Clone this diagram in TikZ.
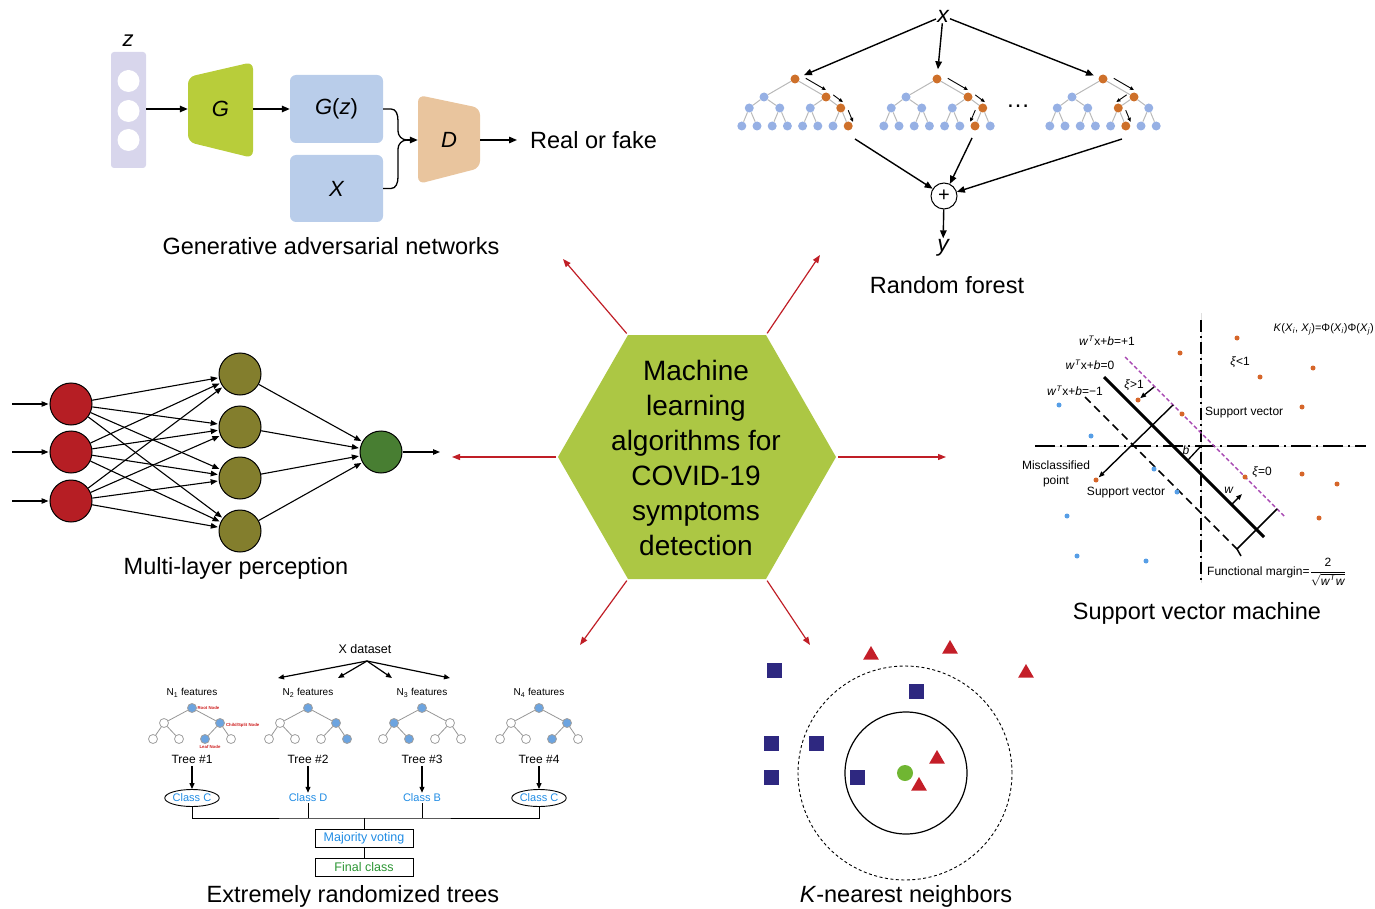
\documentclass[tikz,border=0pt]{standalone}
\usepackage{fontspec}
\setmainfont{Liberation Sans}
\usepackage{xcolor}
\usetikzlibrary{arrows.meta,calc,shapes.geometric}

\definecolor{hexgreen}{RGB}{172,199,68}
\definecolor{arrowred}{RGB}{192,30,38}
\definecolor{ganlav}{RGB}{216,214,236}
\definecolor{gangreen}{RGB}{184,205,58}
\definecolor{ganblue}{RGB}{185,205,234}
\definecolor{gantan}{RGB}{233,197,158}
\definecolor{rfblue}{RGB}{150,176,228}
\definecolor{rforange}{RGB}{206,112,42}
\definecolor{mlpred}{RGB}{182,30,36}
\definecolor{mlpolive}{RGB}{131,126,45}
\definecolor{mlpgreen}{RGB}{72,126,50}
\definecolor{svmorange}{RGB}{214,102,42}
\definecolor{svmblue}{RGB}{86,158,230}
\definecolor{svmpurple}{RGB}{168,72,178}
\definecolor{ertblue}{RGB}{108,164,224}
\definecolor{ertline}{RGB}{150,150,150}
\definecolor{erttext}{RGB}{32,140,228}
\definecolor{ertgreen}{RGB}{44,150,52}
\definecolor{ertred}{RGB}{205,30,30}
\definecolor{knnblue}{RGB}{46,40,128}
\definecolor{knnred}{RGB}{196,30,40}
\definecolor{knngreen}{RGB}{112,182,50}

\newcommand{\fsz}[2]{\fontsize{#1}{#2}\selectfont}

\begin{document}
\begin{tikzpicture}[x=1pt,y=-1pt,
    algname/.style={font=\fsz{23.5}{28}},
    redarr/.style={draw=arrowred,line width=1.2pt,shorten <=2pt,-{Triangle[length=8pt,width=6pt]}},
    blkarr/.style={line width=1.4pt,-{Triangle[length=8pt,width=6.5pt]}},
    ganletter/.style={font=\fsz{22}{26}\itshape,inner sep=0},
    rfnode/.style={circle,minimum size=9pt,inner sep=0},
    rfedge/.style={draw=gray!55,line width=1pt},
    rfsmall/.style={line width=0.9pt,-{Triangle[length=4pt,width=3.5pt]}},
    mlpnode/.style={circle,draw,line width=1pt,minimum size=42pt,inner sep=0},
    mlparr/.style={line width=1.1pt,shorten >=1pt,-{Triangle[length=7pt,width=5.5pt]}},
    svmtxt/.style={font=\fsz{12}{15},inner sep=0},
    svmdot/.style={circle,minimum size=5pt,inner sep=0},
    svmarr/.style={line width=1.4pt,-{Triangle[length=6pt,width=4.5pt]}},
    ertnode/.style={circle,draw=gray!75,line width=0.8pt,minimum size=9pt,inner sep=0},
    ertedge/.style={draw=ertline,line width=0.8pt},
    ertarr/.style={line width=1.2pt,shorten <=2pt,-{Triangle[length=6pt,width=5pt]}},
    erttxt/.style={font=\fsz{12.5}{15},inner sep=1pt},
    knnsq/.style={rectangle,fill=knnblue,minimum size=15pt,inner sep=0},
    knntri/.style={regular polygon,regular polygon sides=3,fill=knnred,minimum size=18pt,inner sep=0}
  ]
  \useasboundingbox (0,0) rectangle (1375,909);

  % centre hexagon
  \coordinate (hxL) at (558,457);
  \coordinate (hxTL) at (628,335);
  \coordinate (hxTR) at (766,335);
  \coordinate (hxR) at (836,457);
  \coordinate (hxBR) at (766,579);
  \coordinate (hxBL) at (628,579);
  \fill[hexgreen] (hxL) -- (hxTL) -- (hxTR) -- (hxR) -- (hxBR) -- (hxBL) -- cycle;
  \node[align=center,font=\fsz{28}{35}] (hub) at (696,458)
    {Machine\\learning\\algorithms for\\COVID-19\\symptoms\\detection};

  % red arrows to the six methods
  \coordinate (toGAN) at (563,259);
  \coordinate (toRF) at (820,255);
  \coordinate (toMLP) at (452,457);
  \coordinate (toSVM) at (946,457);
  \coordinate (toERT) at (580,645);
  \coordinate (toKNN) at (810,645);
  \draw[redarr] (hxTL) -- (toGAN);
  \draw[redarr] (hxTR) -- (toRF);
  \draw[redarr] (hxL) -- (toMLP);
  \draw[redarr] (hxR) -- (toSVM);
  \draw[redarr] (hxBL) -- (toERT);
  \draw[redarr] (hxBR) -- (toKNN);

  % ---- generative adversarial networks
  \node[ganletter] (zlab) at (128,41) {z};
  \fill[ganlav,rounded corners=3pt] (111,52) rectangle (146,168);
  \foreach \cy in {81,111,140}
    \fill[white] (128.5,\cy) circle (11);
  \node[minimum width=35pt,minimum height=116pt,inner sep=0] (zvec) at (128.5,109) {};
  \fill[gangreen,rounded corners=7pt] (188,77) -- (253,62) -- (253,158) -- (188,142) -- cycle;
  \node[ganletter,minimum width=65pt,minimum height=96pt] (gen) at (220.5,109) {G};
  \node[ganletter,fill=ganblue,rounded corners=6pt,minimum width=93pt,minimum height=68pt] (gz) at (336.5,109) {G\textup{(}z\textup{)}};
  \node[ganletter,fill=ganblue,rounded corners=6pt,minimum width=93pt,minimum height=67pt] (xreal) at (336.5,188.5) {X};
  \fill[gantan,rounded corners=7pt] (418,95) -- (480,108) -- (480,168) -- (418,184) -- cycle;
  \node[ganletter,minimum width=62pt,minimum height=89pt] (disc) at (449,140) {D};
  \node[algname,anchor=west,inner sep=0] (real) at (530,140) {Real or fake};
  \draw[blkarr] (zvec.east) -- (gen.west);
  \draw[blkarr] (gen.east) -- (gz.west);
  \coordinate (join) at (407,140);
  \draw[line width=1.3pt] (gz.east) -- (391,109) .. controls (396,109) and (398,114) .. (398,121)
    -- (398,131) .. controls (398,136) and (402,140) .. (join);
  \draw[line width=1.3pt] (xreal.east) -- (391,188.5) .. controls (396,188.5) and (398,183) .. (398,177)
    -- (398,149) .. controls (398,144) and (402,140) .. (join);
  \draw[blkarr] (join) -- (disc.west);
  \draw[blkarr,shorten >=13pt] (disc.east) -- (real.west);
  \node[algname] (gantitle) at (331,246) {Generative adversarial networks};

  % ---- random forest
  \node[font=\fsz{23}{26}\itshape,inner sep=1pt] (rfx) at (943,16) {x};
  \foreach \tr/\rx/\oa/\ob/\oc in {1/795/3/7/15,2/937/3/7/14,3/1103/3/6/13} {
    \foreach \lv/\ly/\dx in {0/79/0,1/97/62,2/108/30.5,3/126/15.2} {
      \pgfmathtruncatemacro\nlast{2^\lv-1}
      \foreach \p in {0,...,\nlast} {
        \pgfmathtruncatemacro\idx{2^\lv+\p}
        \pgfmathtruncatemacro\hit{(\idx==1)||(\idx==\oa)||(\idx==\ob)||(\idx==\oc)}
        \ifnum\hit=1 \def\nc{rforange}\else\def\nc{rfblue}\fi
        \node[rfnode,fill=\nc] (rf\tr n\idx) at ({\rx+(\p-\nlast/2)*\dx},\ly) {};
      }
    }
    \foreach \i in {2,...,15} {
      \pgfmathtruncatemacro\up{int(\i/2)}
      \draw[rfedge] (rf\tr n\up) -- (rf\tr n\i);
    }
  }
  % decision paths
  \foreach \tr/\a/\b/\ang in {1/1/3/90,1/3/7/90,1/7/15/90,2/1/3/90,2/3/7/90,2/7/14/-90,3/1/3/90,3/3/6/-90,3/6/13/90}
    \draw[rfsmall] ($(rf\tr n\a)!0.25!(rf\tr n\b)!6pt!\ang:(rf\tr n\b)$) -- ($(rf\tr n\a)!0.9!(rf\tr n\b)!6pt!\ang:(rf\tr n\b)$);
  \node[font=\fsz{24}{26},anchor=base] (rfdots) at (1018,108) {…};
  \draw[blkarr,shorten >=5pt] (rfx) -- (rf1n1);
  \draw[blkarr,shorten >=5pt] (rfx) -- (rf2n1);
  \draw[blkarr,shorten >=5pt] (rfx) -- (rf3n1);
  \node[circle,draw,line width=1pt,minimum size=26pt,inner sep=0,font=\fsz{20}{22}] (rfsum) at (944,196) {+};
  \coordinate (rf1out) at (855,139);
  \coordinate (rf2out) at (972,138);
  \coordinate (rf3out) at (1122,139);
  \draw[blkarr] (rf1out) -- (rfsum);
  \draw[blkarr] (rf2out) -- (rfsum);
  \draw[blkarr] (rf3out) -- (rfsum);
  \node[font=\fsz{23}{26}\itshape,inner sep=1pt] (rfy) at (943,248) {y};
  \draw[blkarr] (rfsum) -- (rfy);
  \node[algname] (rftitle) at (947,285) {Random forest};

  % ---- multi-layer perception
  \foreach \i/\y in {1/404,2/452,3/501} {
    \node[mlpnode,fill=mlpred] (in\i) at (71,\y) {};
    \coordinate (src\i) at (12,\y);
    \draw[mlparr] (src\i) -- (in\i);
  }
  \foreach \j/\y in {1/374,2/427,3/478,4/531}
    \node[mlpnode,fill=mlpolive] (hid\j) at (240,\y) {};
  \node[mlpnode,fill=mlpgreen] (out) at (381,452) {};
  \foreach \i in {1,2,3}
    \foreach \j in {1,...,4}
      \draw[mlparr] (in\i) -- (hid\j);
  \foreach \j in {1,...,4}
    \draw[mlparr] (hid\j) -- (out);
  \coordinate (mlpend) at (441,452);
  \draw[mlparr] (out) -- (mlpend);
  \node[algname] (mlptitle) at (236,568) {Multi-layer perception};

  % ---- support vector machine
  \coordinate (svmO) at (1201,446);
  \draw[gray!25,line width=1pt] (1035,446) -- (1366,446);
  \draw[gray!25,line width=1pt] (1201,313) -- (1201,583);
  \draw[line width=2pt,dash pattern=on 20pt off 5pt on 2pt off 5pt] (1035,446) -- (1366,446);
  \draw[line width=1.8pt,dash pattern=on 12pt off 4pt on 2pt off 4pt] (1201,320) -- (1201,583);
  \coordinate (hpA) at (1104,377);
  \coordinate (hpB) at (1264,537);
  \coordinate (plA) at (1125,357);
  \coordinate (plB) at (1285,517);
  \coordinate (mnA) at (1085,397);
  \coordinate (mnB) at (1237,549);
  \draw[line width=3pt] (hpA) -- (hpB);
  \draw[svmpurple,line width=1.4pt,dash pattern=on 4pt off 2.5pt] (plA) -- (plB);
  \draw[line width=1.5pt,dash pattern=on 8pt off 5pt] (mnA) -- (mnB);
  \foreach \n/\dx/\dy in {1/1180/353,2/1237/338,3/1313/368,4/1260/377,5/1302/407,6/1138/400,
      7/1182/414,8/1245/477,9/1302/474,10/1337/484,11/1319/518,12/1096/480}
    \node[svmdot,fill=svmorange] (so\n) at (\dx,\dy) {};
  \foreach \n/\dx/\dy in {1/1059/405,2/1091/436,3/1154/469,4/1177/492,5/1067/516,6/1077/556,7/1146/561}
    \node[svmdot,fill=svmblue] (sb\n) at (\dx,\dy) {};
  \coordinate (mup) at (1277,509);
  \draw[line width=1.5pt] ($(mnB)+(4,7)$) -- (mnB) -- (mup);
  \coordinate (misfrom) at (1173,405);
  \draw[svmarr,shorten >=1pt] (misfrom) -- (so12);
  \coordinate (xifrom) at (1154,387);
  \draw[svmarr] (xifrom) -- (so6);
  \coordinate (wfoot) at (1232,504);
  \coordinate (wtip) at (1242,494);
  \draw[svmarr] (wfoot) -- (wtip);
  \coordinate (bfoot) at (1188,460);
  \draw[line width=1.3pt] (svmO) -- (bfoot);
  \node[svmtxt,font=\fsz{11}{13},anchor=east] (kern) at (1374,329)
    {\textit{K}(\textit{X}\textsubscript{\textit{i}}, \textit{X}\textsubscript{\textit{j}})=Φ(\textit{X}\textsubscript{\textit{i}})Φ(\textit{X}\textsubscript{\textit{j}})};
  \node[svmtxt] (lplus) at (1107,341) {\textit{w}\textsuperscript{\textit{T}}x+\textit{b}=+1};
  \node[svmtxt] (lzero) at (1090,365) {\textit{w}\textsuperscript{\textit{T}}x+\textit{b}=0};
  \node[svmtxt] (lminus) at (1075,391) {\textit{w}\textsuperscript{\textit{T}}x+\textit{b}=−1};
  \node[svmtxt] (xigt) at (1134,385) {\textit{ξ}>1};
  \node[svmtxt] (xilt) at (1240,362) {\textit{ξ}<1};
  \node[svmtxt,anchor=west] (sv1) at (1205,413) {Support vector};
  \node[svmtxt] (blab) at (1186,450) {\textit{b}};
  \node[svmtxt,align=center] (mislab) at (1056,474) {Misclassified\\point};
  \node[svmtxt] (sv2) at (1126,493) {Support vector};
  \node[svmtxt] (xieq) at (1262,472) {\textit{ξ}=0};
  \node[svmtxt] (wlab) at (1229,490) {\textit{w}};
  \node[svmtxt,anchor=base west] (fmargin) at (1207,575)
    {Functional margin=$\displaystyle\frac{\mbox{2}}{\sqrt{\mbox{\textit{w}\textsuperscript{\textit{T}}\textit{w}}}}$};
  \node[algname] (svmtitle) at (1197,613) {Support vector machine};

  % ---- extremely randomized trees
  \node[erttxt] (xds) at (365,649) {X dataset};
  \coordinate (xsplit) at (367,661);
  \foreach \tn/\ax in {1/278,2/338,3/392,4/450} {
    \coordinate (xto\tn) at (\ax,678);
    \draw[line width=1.2pt,-{Triangle[length=6pt,width=5pt]}] (xsplit) -- (xto\tn);
  }
  \foreach \tn/\rx/\ba/\bb in {1/192/3/6,2/308/3/7,3/422/2/5,4/539/3/6} {
    \node[font=\fsz{10}{12},inner sep=1pt] (feat\tn) at (\rx,693) {N\textsubscript{\tn} features};
    \foreach \lv/\ly/\dx in {0/708/0,1/723/56,2/739/26} {
      \pgfmathtruncatemacro\nlast{2^\lv-1}
      \foreach \p in {0,...,\nlast} {
        \pgfmathtruncatemacro\idx{2^\lv+\p}
        \pgfmathtruncatemacro\hit{(\idx==1)||(\idx==\ba)||(\idx==\bb)}
        \ifnum\hit=1 \def\nc{ertblue}\else\def\nc{white}\fi
        \node[ertnode,fill=\nc] (et\tn n\idx) at ({\rx+(\p-\nlast/2)*\dx},\ly) {};
      }
    }
    \foreach \i in {2,...,7} {
      \pgfmathtruncatemacro\up{int(\i/2)}
      \draw[ertedge] (et\tn n\up) -- (et\tn n\i);
    }
    \node[font=\fsz{12}{14},inner sep=1pt] (tree\tn) at (\rx,759) {Tree \#\tn};
  }
  \node[font=\fsz{4.3}{5}\bfseries,text=ertred,anchor=west,inner sep=0.5pt] (lroot) at (et1n1.east) {Root Node};
  \node[font=\fsz{4.3}{5}\bfseries,text=ertred,anchor=west,inner sep=0.5pt] (lsplit) at ($(et1n3.east)+(0.5,2.5)$) {Child/Split Node};
  \node[font=\fsz{4.3}{5}\bfseries,text=ertred,anchor=north,inner sep=0.5pt] (lleaf) at ($(et1n6.south)+(5,0.5)$) {Leaf Node};
  \node[ellipse,draw,line width=0.9pt,minimum width=46pt,minimum height=17pt,inner sep=0,text=erttext,font=\fsz{11}{13}] (cls1) at (192,798) {Class C};
  \node[inner sep=1pt,text=erttext,font=\fsz{11}{13}] (cls2) at (308,798) {Class D};
  \node[inner sep=1pt,text=erttext,font=\fsz{11}{13}] (cls3) at (422,798) {Class B};
  \node[ellipse,draw,line width=0.9pt,minimum width=46pt,minimum height=17pt,inner sep=0,text=erttext,font=\fsz{11}{13}] (cls4) at (539,798) {Class C};
  \foreach \tn in {1,...,4}
    \draw[ertarr] (tree\tn) -- (cls\tn);
  \coordinate (bus) at (364,818);
  \draw[line width=1pt] (cls1.south) |- (bus) -| (cls4.south);
  \draw[line width=1pt] (cls2.south) -- (cls2.south |- bus);
  \draw[line width=1pt] (cls3.south) -- (cls3.south |- bus);
  \node[draw,line width=1pt,minimum width=98pt,minimum height=18pt,inner sep=0,text=erttext,font=\fsz{12.5}{15}] (vote) at (364,838) {Majority voting};
  \node[draw,line width=1pt,minimum width=98pt,minimum height=18pt,inner sep=0,text=ertgreen,font=\fsz{12.5}{15}] (final) at (364,867) {Final class};
  \draw[line width=1pt] (bus) -- (vote.north);
  \draw[line width=1pt] (vote.south) -- (final.north);
  \node[algname] (erttitle) at (353,896) {Extremely randomized trees};

  % ---- k-nearest neighbors
  \node[circle,draw,line width=0.9pt,dash pattern=on 3pt off 2.5pt,minimum size=214pt,inner sep=0] (knnout) at (905,773) {};
  \node[circle,draw,line width=1.2pt,minimum size=122pt,inner sep=0] (knnin) at (906,773) {};
  \node[circle,fill=knngreen,minimum size=16pt,inner sep=0] (query) at (905,773) {};
  \foreach \n/\qx/\qy in {1/774/670,2/916/691,3/771/743,4/816/743,5/771/777,6/857/777}
    \node[knnsq] (sq\n) at (\qx,\qy) {};
  \foreach \n/\qx/\qy in {1/871/655,2/950/649,3/1026/673,4/937/759,5/919/786}
    \node[knntri] (tri\n) at (\qx,\qy) {};
  \node[algname] (knntitle) at (906,896) {\textit{K}-nearest neighbors};
\end{tikzpicture}
\end{document}
